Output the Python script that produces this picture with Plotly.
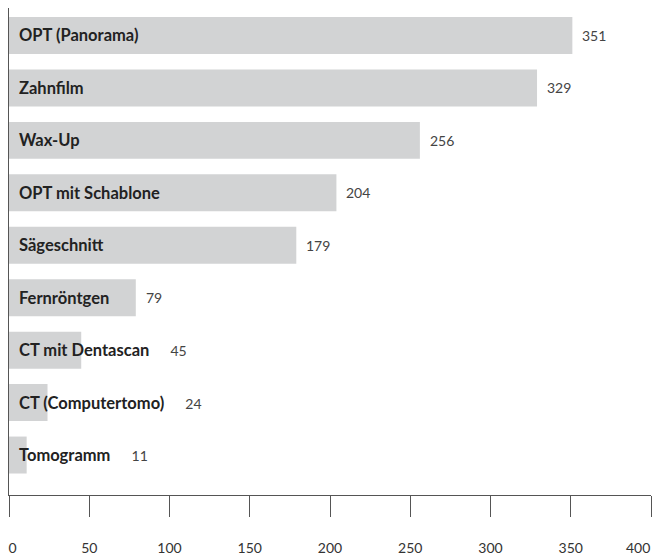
import plotly.graph_objects as go

categories = ["OPT (Panorama)", "Zahnfilm", "Wax-Up", "OPT mit Schablone", "Sägeschnitt",
              "Fernröntgen", "CT mit Dentascan", "CT (Computertomo)", "Tomogramm"]
values = [351, 329, 256, 204, 179, 79, 45, 24, 11]
tick_vals = [0, 50, 100, 150, 200, 250, 300, 350, 400]
tick_labels = ["0", "50", "100", "150", "200", "250", "300", "350", "400"]

FONT = "Lato, 'Open Sans', sans-serif"
BAR = "#d2d3d4"
LABEL_C = "#222222"
VAL_C = "#444444"
TICK_C = "#333333"

W, H = 652, 560
L, R, T, B = 9, 1, 8, 64.5
px_per_unit = (W - L - R) / 400.0

fig = go.Figure(go.Bar(
    x=values, y=list(range(len(categories))), orientation="h",
    marker=dict(color=BAR, line=dict(width=0)),
    hoverinfo="skip",
))

annotations = []
for i, (c, v) in enumerate(zip(categories, values)):
    est_w = 10 + len(c) * 8.5
    if est_w > v * px_per_unit:
        text = (f"<b>{c}</b>" + "\u00a0" * 5 +
                f"<span style='font-size:14px;color:{VAL_C}'>{v}</span>")
        annotations.append(dict(x=0, y=i, xref="x", yref="y", text=text,
                                showarrow=False, xanchor="left", yanchor="middle",
                                xshift=8, font=dict(family=FONT, size=16.5, color=LABEL_C)))
    else:
        annotations.append(dict(x=0, y=i, xref="x", yref="y", text=f"<b>{c}</b>",
                                showarrow=False, xanchor="left", yanchor="middle",
                                xshift=8, font=dict(family=FONT, size=16.5, color=LABEL_C)))
        annotations.append(dict(x=v, y=i, xref="x", yref="y", text=str(v),
                                showarrow=False, xanchor="left", yanchor="middle",
                                xshift=8, font=dict(family=FONT, size=14, color=VAL_C)))

# axis tick labels: the last one sits flush with the right edge, as in the reference
tick_text = ["\u00a0\u00a0" + tick_labels[0]] + tick_labels[1:-1] + [""]
annotations.append(dict(x=tick_vals[-1], y=0, xref="x", yref="paper", text=tick_labels[-1],
                        showarrow=False, xanchor="right", yanchor="middle",
                        xshift=1, yshift=-52.5, font=dict(family=FONT, size=14, color=TICK_C)))

fig.update_layout(
    width=W, height=H,
    margin=dict(l=L, r=R, t=T, b=B, pad=0, autoexpand=False),
    paper_bgcolor="white", plot_bgcolor="white",
    bargap=0.295,
    showlegend=False,
    annotations=annotations,
    font=dict(family=FONT, size=14, color=TICK_C),
    xaxis=dict(range=[0, 400], tickmode="array", tickvals=tick_vals, ticktext=tick_text,
               showgrid=False, zeroline=False, showline=True, linecolor="#555555", linewidth=1,
               ticks="outside", ticklen=21, tickwidth=1, tickcolor="#555555",
               ticklabelstandoff=19,
               tickfont=dict(family=FONT, size=14, color=TICK_C),
               automargin=False, fixedrange=True),
    yaxis=dict(range=[8.762, -0.524], showticklabels=False, showgrid=False, zeroline=False,
               showline=True, linecolor="#555555", linewidth=1, ticks="",
               automargin=False, fixedrange=True),
)

fig.write_html("out.html", config={"displayModeBar": False},
               post_script="document.body.style.margin='0';document.body.style.overflow='hidden';")
